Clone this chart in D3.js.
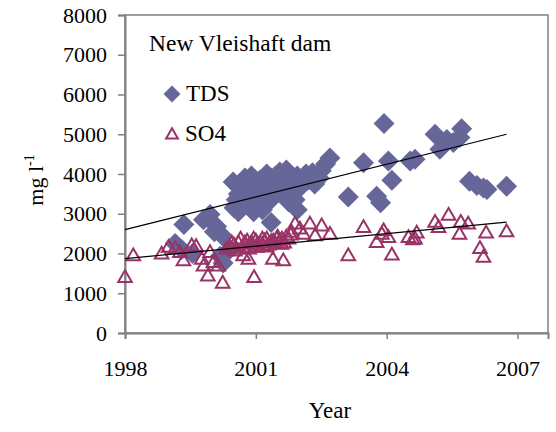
<!DOCTYPE html>
<html>
 <head>
  <style>
  body { margin: 0; background: #fff; }
  svg text { font-family: "Liberation Serif", "Times New Roman", "DejaVu Serif", "Noto Serif", serif; fill: #000; }
  </style>
 </head>
 <body>
  <script src="https://cdnjs.cloudflare.com/ajax/libs/d3/7.8.3/d3.min.js"></script>
  <script>
   // TDS readings (decimal year, mg/l)
   const tdsYears = [1999.15, 1999.3, 1999.35, 1999.55, 1999.8, 1999.95, 2000.05, 2000.1, 2000.25, 2000.25,
     2000.18, 2000.4, 2000.48, 2000.5, 2000.6, 2000.7, 2000.8, 2000.85, 2000.9, 2000.95,
     2001.0, 2001.05, 2001.1, 2001.2, 2001.25, 2001.3, 2001.35, 2001.4, 2001.5, 2001.55,
     2001.6, 2001.7, 2001.75, 2001.8, 2001.9, 2001.95, 2001.95, 2002.05, 2002.2, 2002.3,
     2002.45, 2002.5, 2002.6, 2002.7, 2003.12, 2003.47, 2003.77, 2003.86, 2003.94, 2004.04,
     2004.12, 2004.54, 2004.65, 2005.11, 2005.22, 2005.38, 2005.53, 2005.68, 2005.72, 2005.9,
     2006.07, 2006.22, 2006.3, 2006.75,
     2000.55, 2000.65, 2000.75, 2001.15, 2001.45, 2001.65, 2001.85, 2002.0, 2002.15, 2002.35,
     2000.6, 2001.15, 2000.95, 2001.35];
   const tdsValues = [2250, 2100, 2730, 2000, 2850, 2980, 2550, 2680, 2430, 1760,
     1930, 2100, 3800, 3150, 3500, 3350, 3650, 3250, 3950, 3050,
     3700, 3450, 3850, 3600, 4000, 3300, 2780, 3750, 3550, 4050,
     3850, 4100, 3300, 3650, 3350, 3950, 3100, 3800, 3850, 4030,
     3900, 4080, 4250, 4400, 3420, 4285, 3440, 3275, 5270, 4326,
     3840, 4326, 4370, 5000, 4620, 4870, 4790, 4920, 5140, 3820,
     3710, 3650, 3610, 3690,
     3350, 3700, 3900, 3300, 3950, 3500, 3900, 3650, 4000, 3750,
     3050, 3100, 3600, 3900];

   // SO4 readings (decimal year, mg/l)
   const so4Years = [1998.0, 1998.19, 1998.84, 1999.0, 1999.15, 1999.26, 1999.34, 1999.53, 1999.63, 1999.76,
     1999.8, 1999.9, 1999.95, 2000.03, 2000.14, 2000.24, 2000.33, 2000.52, 2000.71, 2000.83,
     2000.96, 2000.87, 2001.02, 2001.17, 2001.39, 2001.63, 2001.25, 2001.48, 2001.59, 2001.9,
     2002.01, 2002.09, 2002.24, 2002.36, 2002.51, 2001.82,
     2000.4, 2000.5, 2000.6, 2000.7, 2000.8, 2000.9, 2001.0, 2001.05, 2001.1, 2001.2,
     2001.3, 2001.35, 2001.45, 2001.55, 2001.65, 2001.7, 2001.75,
     2000.45, 2000.65, 2000.75, 2000.95, 2001.15, 2001.25, 2001.4, 2001.5, 2001.6, 2001.8,
     2000.55, 2000.85, 2001.0,
     2002.7, 2003.12, 2003.47, 2003.89, 2003.93, 2003.77, 2004.04, 2004.12, 2004.5, 2004.6,
     2004.65, 2004.69, 2005.11, 2005.19, 2005.42, 2005.7, 2005.67, 2005.87, 2006.14, 2006.22,
     2006.28, 2006.75];
   const so4Values = [1380, 1930, 1970, 2140, 2110, 2010, 1800, 2180, 2160, 1840,
     1670, 1420, 2010, 1760, 1670, 1240, 2100, 2050, 1930, 1840,
     1380, 2220, 2140, 2180, 1840, 1800, 2350, 2350, 2220, 2730,
     2600, 2470, 2730, 2430, 2680, 2520,
     2150, 2200, 2250, 2150, 2300, 2250, 2300, 2200, 2250, 2300,
     2200, 2280, 2230, 2300, 2250, 2400, 2350,
     2250, 2350, 2250, 2350, 2350, 2150, 2300, 2400, 2350, 2450,
     2100, 2100, 2150,
     2470, 1930, 2640, 2470, 2560, 2265, 2390, 1945, 2390, 2330,
     2350, 2500, 2770, 2640, 2950, 2770, 2470, 2730, 2110, 1890,
     2500, 2530];

   // linear trend end points
   const trendYears = [1998, 2006.75];
   const tdsTrend = [2600, 5000];
   const so4Trend = [1870, 2790];

   const yearTicks = [1998, 2001, 2004, 2007];
   const valueTicks = [0, 1000, 2000, 3000, 4000, 5000, 6000, 7000, 8000];

   const w = 556, h = 432;
   const pLeft = 125, pRight = 548, pTop = 15, pBottom = 333;
   const serif = '"Liberation Serif", "Times New Roman", "DejaVu Serif", "Noto Serif", serif';

   const svg = d3.select("body").append("svg")
     .attr("width", w).attr("height", h)
     .attr("font-family", serif);

   const x = d3.scaleLinear().domain([1998, 2007.7]).range([pLeft, pRight]);
   const y = d3.scaleLinear().domain([0, 8000]).range([pBottom, pTop]);

   // frame
   svg.append("rect")
     .attr("x", pLeft).attr("y", pTop)
     .attr("width", pRight - pLeft).attr("height", pBottom - pTop)
     .attr("fill", "none").attr("stroke", "#808080").attr("stroke-width", 1.5);

   const yAxis = svg.append("g")
     .attr("transform", "translate(" + pLeft + ",0)")
     .call(d3.axisLeft(y).tickValues(valueTicks).tickFormat(d3.format("d")).tickSize(7).tickPadding(11));
   const xAxis = svg.append("g")
     .attr("transform", "translate(0," + pBottom + ")")
     .call(d3.axisBottom(x).tickValues(yearTicks).tickFormat(d3.format("d")).tickSize(6).tickPadding(21));
   [xAxis, yAxis].forEach(g => {
     g.attr("font-family", serif).attr("font-size", 22);
     g.select(".domain").attr("stroke", "#808080").attr("stroke-width", 2);
     g.selectAll(".tick line").attr("stroke", "#808080").attr("stroke-width", 1.5);
     g.selectAll("text").style("font-family", serif).style("font-size", "22px");
   });

   const diamond = d3.symbol().type(d3.symbolSquare).size(220);
   const triangle = d3.symbol().type(d3.symbolTriangle).size(80);

   svg.append("g").selectAll("path")
     .data(tdsYears.map((d, i) => [d, tdsValues[i]]))
     .enter().append("path")
     .attr("d", diamond)
     .attr("transform", d => "translate(" + x(d[0]) + "," + y(d[1]) + ") rotate(45)")
     .attr("fill", "#666699");

   svg.append("g").selectAll("path")
     .data(so4Years.map((d, i) => [d, so4Values[i]]))
     .enter().append("path")
     .attr("d", triangle)
     .attr("transform", d => "translate(" + x(d[0]) + "," + y(d[1]) + ")")
     .attr("fill", "none")
     .attr("stroke", "#993366")
     .attr("stroke-width", 2);

   const line = d3.line().x(d => x(d[0])).y(d => y(d[1]));
   [tdsTrend, so4Trend].forEach(t => {
     svg.append("path")
       .attr("d", line(trendYears.map((d, i) => [d, t[i]])))
       .attr("fill", "none").attr("stroke", "#000").attr("stroke-width", 1.2);
   });

   // legend
   svg.append("text").attr("x", 149).attr("y", 51).style("font-size", "23.5px").text("New Vleishaft dam");
   svg.append("path")
     .attr("d", d3.symbol().type(d3.symbolSquare).size(144))
     .attr("transform", "translate(172,94) rotate(45)")
     .attr("fill", "#666699");
   svg.append("text").attr("x", 186).attr("y", 101).style("font-size", "23px").text("TDS");
   svg.append("path")
     .attr("d", d3.symbol().type(d3.symbolTriangle).size(60))
     .attr("transform", "translate(172,135)")
     .attr("fill", "none").attr("stroke", "#993366").attr("stroke-width", 2);
   svg.append("text").attr("x", 185).attr("y", 141).style("font-size", "23px").text("SO4");

   // axis titles
   svg.append("text").attr("x", 330).attr("y", 418).attr("text-anchor", "middle")
     .style("font-size", "23px").text("Year");
   const yl = svg.append("text")
     .attr("transform", "translate(43,180) rotate(-90)")
     .attr("text-anchor", "middle").style("font-size", "22px");
   yl.append("tspan").text("mg l");
   yl.append("tspan").attr("dy", -9).style("font-size", "14px").text("-1");
  </script>
 </body>
</html>
